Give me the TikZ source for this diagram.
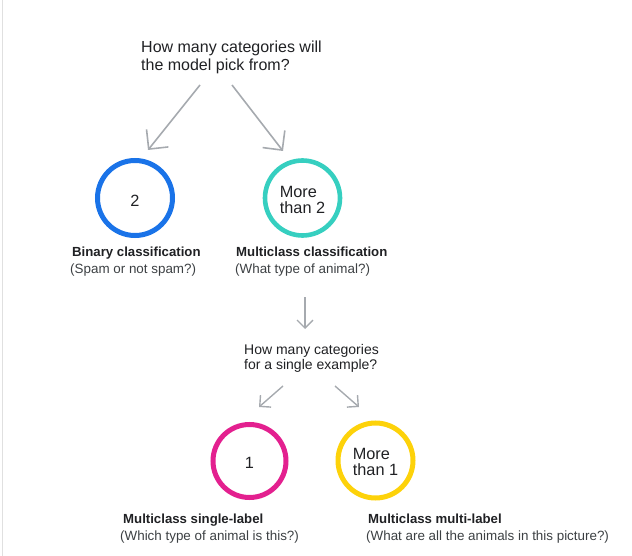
\documentclass[tikz,border=0pt]{standalone}
\usepackage{fontspec}
\setmainfont{Liberation Sans}
\usetikzlibrary{arrows.meta}
\definecolor{ringblue}{HTML}{1A73E8}
\definecolor{ringteal}{HTML}{36CFC0}
\definecolor{ringpink}{HTML}{E3208F}
\definecolor{ringyellow}{HTML}{FDD20A}
\definecolor{arrowgray}{HTML}{A6AAAF}
\definecolor{txt}{HTML}{202124}
\definecolor{subtxt}{HTML}{3C4043}
\begin{document}
\begin{tikzpicture}[x=1pt,y=-1pt,
  ring/.style={circle,draw,line width=5pt,minimum size=75pt,inner sep=0pt},
  ringtext/.style={inner sep=0pt,font=\fontsize{16.3}{15.5}\selectfont,align=left,text=txt},
  question/.style={anchor=base west,align=left,inner sep=0pt,text=txt},
  ltitle/.style={anchor=base west,inner sep=0pt,font=\bfseries\fontsize{13.2}{15}\selectfont,text=txt},
  lsub/.style={anchor=base west,inner sep=0pt,font=\fontsize{13.4}{15}\selectfont,text=subtxt},
  bigarrow/.style={draw=arrowgray,line width=1.6pt,-{Straight Barb[length=14pt,width=28pt]}},
  smallarrow/.style={draw=arrowgray,line width=1.4pt,-{Straight Barb[length=8pt,width=16pt]}}
]
\useasboundingbox (0,0) rectangle (632,556);
\draw[draw=black!12,line width=1pt] (2,0) -- (2,556);

% first question (base anchor = baseline of the last line)
\node[question,font=\fontsize{16}{18}\selectfont] (q1) at (141,70.7)
  {How many categories will\\the model pick from?};

% first level rings
\node[ring,draw=ringblue] (c1) at (135,198) {};
\node[ringtext] (c1t) at ([yshift=-2.5pt]c1.center) {2};
\node[ring,draw=ringteal,line width=4.6pt] (c2) at (302.5,198) {};
\node[ringtext] (c2t) at ([yshift=-2pt]c2.center) {More\\than 2};

\node[ltitle] (t1) at (72,256.7) {Binary classification};
\node[lsub] (s1) at (70,273) {(Spam or not spam?)};
\node[ltitle] (t2) at (236,256.7) {Multiclass classification};
\node[lsub] (s2) at (235,273) {(What type of animal?)};

% second question
\node[question,font=\fontsize{14}{15}\selectfont] (q2) at (244,369)
  {How many categories\\for a single example?};

% second level rings
\node[ring,draw=ringpink,minimum size=73pt] (c3) at (249.5,461) {};
\node[ringtext] (c3t) at ([yshift=-1.5pt]c3.center) {1};
\node[ring,draw=ringyellow] (c4) at (375.5,460.5) {};
\node[ringtext] (c4t) at ([yshift=-1.5pt]c4.center) {More\\than 1};

\node[ltitle] (t3) at (123,523.3) {Multiclass single-label};
\node[lsub] (s3) at (120,540) {(Which type of animal is this?)};
\node[ltitle] (t4) at (368,523.3) {Multiclass multi-label};
\node[lsub] (s4) at (366,540) {(What are all the animals in this picture?)};

% arrow end points
\coordinate (a1s) at (200,85);  \coordinate (a1e) at (148,150);
\coordinate (a2s) at (232,85);  \coordinate (a2e) at (283,151);
\coordinate (a3s) at (305,297); \coordinate (a3e) at (305,329);
\coordinate (a4s) at (283,386); \coordinate (a4e) at (259,407);
\coordinate (a5s) at (335,386); \coordinate (a5e) at (359,407);

\draw[bigarrow] (a1s) -- (a1e);
\draw[bigarrow] (a2s) -- (a2e);
\draw[smallarrow] (a3s) -- (a3e);
\draw[smallarrow] (a4s) -- (a4e);
\draw[smallarrow] (a5s) -- (a5e);
\end{tikzpicture}
\end{document}
